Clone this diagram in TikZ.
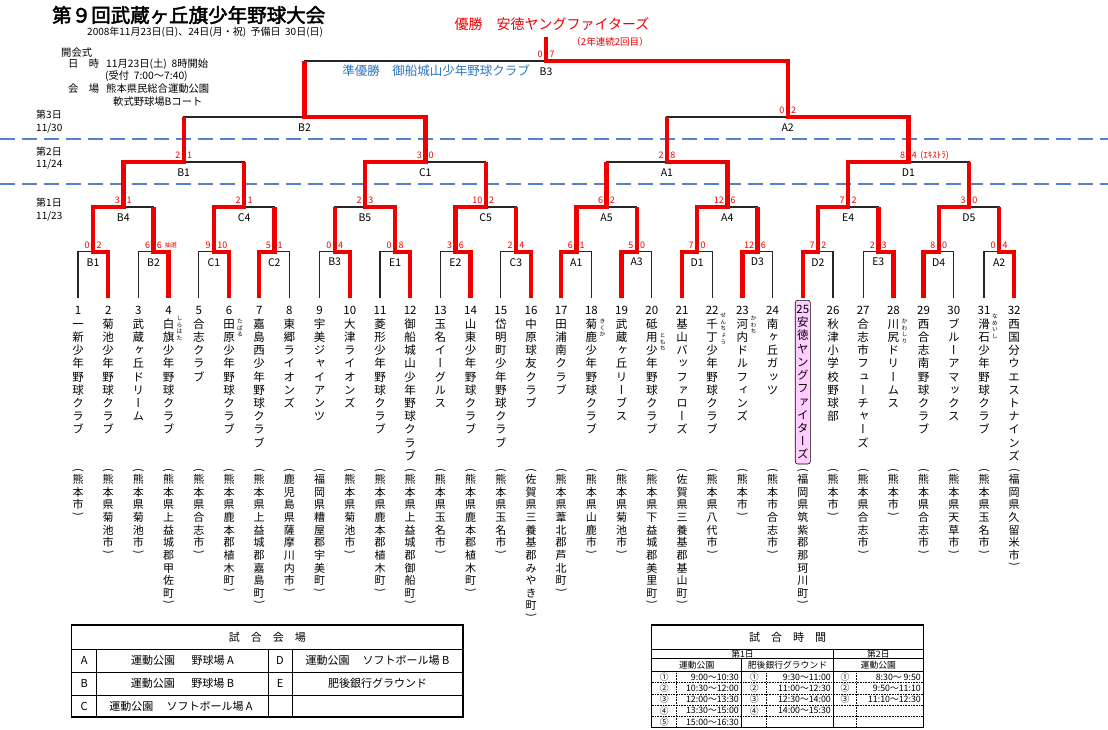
\documentclass[tikz,border=0pt]{standalone}
\usepackage{fontspec}
\setmainfont{Noto Sans CJK JP}
\newfontfamily\tatefont[RawFeature=+vert]{Noto Sans CJK JP}
\newfontfamily\boldjp[FakeBold=2.5]{Noto Sans CJK JP}
\usetikzlibrary{positioning, calc}

\definecolor{daybl}{RGB}{84,130,204}
\definecolor{runbl}{RGB}{40,118,190}
\definecolor{winred}{RGB}{238,0,0}
\definecolor{champpink}{RGB}{255,205,255}

% tategaki: one character per line
\def\tateend{}
\newcommand\tatebox[1]{\hbox to 1.1em{\hss\vrule height .93em depth .22em width 0pt#1\hss}}
\newcommand\tateparen[1]{\vbox to .55em{\vss\hbox to 1.1em{\hss\rotatebox{-90}{\rmfamily#1}\hss}\vss}}
\def\tateput#1{\ifx#1(\tateparen{(}\else\ifx#1)\tateparen{)}\else\tatebox{#1}\fi\fi}
\def\tatechar#1{\ifx#1\tateend\else\tateput{#1}\expandafter\tatechar\fi}
\newcommand\tatestack[1]{\vbox{\offinterlineskip
  \edef\tatetmp{#1}\expandafter\tatechar\tatetmp\tateend}}
\newcommand\tate[2]{\vbox{\offinterlineskip
  \tatebox{#1}\edef\tatetmp{#2}\expandafter\tatechar\tatetmp\tateend}}

\begin{document}
\begin{tikzpicture}[x=1pt, y=-1pt,
    lose/.style={black!85, line width=1.2pt},
    win/.style={winred, line width=4.4pt},
    daysep/.style={daybl, line width=1.3pt, dash pattern=on 15pt off 7pt},
    mlab/.style={font=\fontsize{10.5}{11}\selectfont, inner sep=0pt, yshift=-10.5pt},
    scl/.style={font=\fontsize{9}{9}\selectfont, text=winred, inner sep=0pt, anchor=east, xshift=-3.2pt, yshift=6.5pt},
    scr/.style={font=\fontsize{9}{9}\selectfont, text=winred, inner sep=0pt, anchor=west, xshift=3.2pt, yshift=6.5pt},
    note/.style={text=winred, inner sep=0pt, anchor=west},
    team/.style={font=\tatefont\fontsize{11.5}{12}\selectfont, inner sep=0pt},
    place/.style={font=\tatefont\fontsize{11}{12}\selectfont, inner sep=0pt, anchor=north},
    furi/.style={font=\tatefont\fontsize{5.8}{6}\selectfont, inner sep=0pt, anchor=north},
    nobox/.style={},
    champ/.style={draw=black, line width=0.6pt, fill=champpink, rounded corners=2.5pt,
      inner xsep=1.2pt, inner ysep=2.5pt, yshift=4pt},
    info/.style={font=\fontsize{10.3}{11}\selectfont, anchor=west, inner sep=0pt},
    daylab/.style={font=\fontsize{10}{11}\selectfont, anchor=west, inner sep=0pt},
    tblout/.style={black, line width=1.3pt},
    tblin/.style={black, line width=0.7pt},
    tbldot/.style={black, line width=0.7pt, dash pattern=on 0.8pt off 0.8pt},
    cell/.style={font=\fontsize{11}{12}\selectfont, inner sep=0pt},
    tcell/.style={font=\fontsize{8.8}{9}\selectfont, inner sep=0pt}
  ]
  \useasboundingbox (0,0) rectangle (1108,729);
  \def\tx{30.2}  % team pitch

  % -- 1. HEADER --
  \node[anchor=west, inner sep=0pt, font=\boldjp\fontsize{19.5}{20}\selectfont] (title) at (52,15) {第９回武蔵ヶ丘旗少年野球大会};
  \node[anchor=west, inner sep=0pt, font=\fontsize{10}{10}\selectfont] (dates) at (87,32) {2008年11月23日(日)、24日(月・祝)\ \ 予備日\ \ 30日(日)};
  \node[info] (kaikai) at (61,53) {開会式};
  \node[info] (nichiji) at (68,64) {日　時};
  \node[info] (nichiji-v) at (106,64) {11月23日(土)\ \ 8時開始};
  \node[info] (uketsuke) at (105,76) {(受付\ \ 7:00～7:40)};
  \node[info] (kaijo) at (68,89) {会　場};
  \node[info] (kaijo-v) at (106,89) {熊本県民総合運動公園};
  \node[info] (court) at (113,102) {軟式野球場Bコート};

  % day bands
  \draw[daysep] (0,139) -- (1108,139);
  \draw[daysep] (0,184) -- (1108,184);
  \node[daylab] (day3) at (36,115) {第3日};
  \node[daylab] (day3d) at (36,128) {11/30};
  \node[daylab] (day2) at (36,152) {第2日};
  \node[daylab] (day2d) at (36,164) {11/24};
  \node[daylab] (day1) at (36,203) {第1日};
  \node[daylab] (day1d) at (36,216) {11/23};

  % -- 2. BRACKET --
  \foreach \i in {1,...,32} \coordinate (t\i) at ({78+\tx*(\i-1)},298);
  \foreach \lv/\k/\y/\n in {a/2/251.7/16, b/4/207/8, c/8/162/4, d/16/117/2, f/32/61/1}
    \foreach \j in {1,...,\n} \coordinate (\lv\j) at ({78+\tx*(\k*(\j-1)+(\k-1)/2)},\y);
  \coordinate (top) at ($(f1)+(0,-24)$);

  % black frame of every match
  \foreach \lv/\ch/\n in {a/t/16, b/a/8, c/b/4, d/c/2, f/d/1}
    \foreach \j in {1,...,\n} {
      \pgfmathtruncatemacro\l{2*\j-1}
      \pgfmathtruncatemacro\r{2*\j}
      \draw[lose] (\ch\l) |- (\lv\j) -| (\ch\r);
    }

  % round 1
  \foreach \j/\w/\lab/\sa/\sb in {1/2/B1/0/2, 2/4/B2/6/6, 3/6/C1/9/10, 4/7/C2/5/1,
      5/10/B3/0/4, 6/12/E1/0/8, 7/14/E2/3/6, 8/16/C3/2/4, 9/17/A1/6/1, 10/19/A3/5/0,
      11/21/D1/7/0, 12/23/D3/12/6, 13/25/D2/7/2, 14/28/E3/2/3, 15/29/D4/8/0, 16/32/A2/0/4} {
    \draw[win] (t\w) |- (a\j) -- (a\j |- b1);
    \node[mlab] (la\j) at (a\j) {\lab};
    \node[scl] (sla\j) at (a\j) {\sa};
    \node[scr] (sra\j) at (a\j) {\sb};
  }
  \node[note, font=\fontsize{6}{6}\selectfont] (chusen) at ($(sra2.east)+(2.5,0)$) {抽選};

  % round 2
  \foreach \j/\w/\lab/\sa/\sb in {1/1/B4/3/1, 2/3/C4/2/1, 3/6/B5/2/3, 4/7/C5/10/2,
      5/9/A5/6/2, 6/11/A4/12/6, 7/13/E4/7/2, 8/15/D5/3/0} {
    \draw[win] (a\w) |- (b\j) -- (b\j |- c1);
    \node[mlab] (lb\j) at (b\j) {\lab};
    \node[scl] (slb\j) at (b\j) {\sa};
    \node[scr] (srb\j) at (b\j) {\sb};
  }

  % round 3
  \foreach \j/\w/\lab/\sa/\sb in {1/1/B1/2/1, 2/3/C1/3/0, 3/6/A1/2/8, 4/7/D1/8/4} {
    \draw[win] (b\w) |- (c\j) -- (c\j |- d1);
    \node[mlab] (lc\j) at (c\j) {\lab};
    \node[scl] (slc\j) at (c\j) {\sa};
    \node[scr] (src\j) at (c\j) {\sb};
  }
  \node[note, font=\fontsize{9}{9}\selectfont] (extra) at ($(src4.east)+(3,0)$) {(ｴｷｽﾄﾗ)};

  % semi-finals and final
  \draw[win] (c2) |- (d1) -- (d1 |- f1);
  \node[mlab] (ld1) at (d1) {B2};
  \draw[win] (c4) |- (d2) -- (d2 |- f1);
  \node[mlab] (ld2) at (d2) {A2};
  \node[scl] (sld2) at (d2) {0};
  \node[scr] (srd2) at (d2) {2};
  \draw[win] (d2) |- (f1) -- (top);
  \node[mlab] (lf) at (f1) {B3};
  \node[scl] (slf) at (f1) {0};
  \node[scr] (srf) at (f1) {7};

  \node[text=winred, inner sep=0pt, font=\fontsize{14}{14}\selectfont] (champion) at (552,24) {優勝　安徳ヤングファイターズ};
  \node[text=winred, inner sep=0pt, font=\fontsize{9.5}{10}\selectfont] (renzoku) at (610,42) {（2年連続2回目）};
  \node[text=runbl, inner sep=0pt, font=\fontsize{12.5}{13}\selectfont] (runnerup) at (436,71) {準優勝　御船城山少年野球クラブ};

  % -- 3. TEAMS --
  \coordinate (locrow) at (0,467);
  \foreach \i/\nm/\loc/\st in {
      1/一新少年野球クラブ/(熊本市)/nobox, 2/菊池少年野球クラブ/(熊本県菊池市)/nobox,
      3/武蔵ヶ丘ドリーム/(熊本県菊池市)/nobox, 4/白旗少年野球クラブ/(熊本県上益城郡甲佐町)/nobox,
      5/合志クラブ/(熊本県合志市)/nobox, 6/田原少年野球クラブ/(熊本県鹿本郡植木町)/nobox,
      7/嘉島西少年野球クラブ/(熊本県上益城郡嘉島町)/nobox, 8/東郷ライオンズ/(鹿児島県薩摩川内市)/nobox,
      9/宇美ジャイアンツ/(福岡県糟屋郡宇美町)/nobox, 10/大津ライオンズ/(熊本県菊池市)/nobox,
      11/菱形少年野球クラブ/(熊本県鹿本郡植木町)/nobox, 12/御船城山少年野球クラブ/(熊本県上益城郡御船町)/nobox,
      13/玉名イーグルス/(熊本県玉名市)/nobox, 14/山東少年野球クラブ/(熊本県鹿本郡植木町)/nobox,
      15/岱明町少年野球クラブ/(熊本県玉名市)/nobox, 16/中原球友クラブ/(佐賀県三養基郡みやき町)/nobox,
      17/田浦南クラブ/(熊本県葦北郡芦北町)/nobox, 18/菊鹿少年野球クラブ/(熊本県山鹿市)/nobox,
      19/武蔵ヶ丘リーブス/(熊本県菊池市)/nobox, 20/砥用少年野球クラブ/(熊本県下益城郡美里町)/nobox,
      21/基山バッファローズ/(佐賀県三養基郡基山町)/nobox, 22/千丁少年野球クラブ/(熊本県八代市)/nobox,
      23/河内ドルフィンズ/(熊本市)/nobox, 24/南ヶ丘ガッツ/(熊本市合志市)/nobox,
      25/安徳ヤングファイターズ/(福岡県筑紫郡那珂川町)/champ, 26/秋津小学校野球部/(熊本市)/nobox,
      27/合志市フューチャーズ/(熊本県合志市)/nobox, 28/川尻ドリームス/(熊本市)/nobox,
      29/西合志南野球クラブ/(熊本県合志市)/nobox, 30/ブルーアマックス/(熊本県天草市)/nobox,
      31/滑石少年野球クラブ/(熊本県玉名市)/nobox, 32/西国分ウエストナインズ/(福岡県久留米市)/nobox} {
    \node[team, below=6pt of t\i, \st] (n\i) {\tate{\i}{\nm}};
    \node[place] (p\i) at (t\i |- locrow) {\tatestack{\loc}};
  }
  % furigana
  \foreach \i/\rb/\dy in {4/しらはた/17, 6/たばる/20, 18/きくか/20, 20/ともち/34,
      22/せんちょう/14, 23/かわち/17, 28/かわしり/20, 31/なめいし/15}
    \node[furi] (ru\i) at ($(t\i)+(11,\dy)$) {\tatestack{\rb}};

  % -- 4. VENUE TABLE --
  \draw[tblout] (71.7,625) rectangle (463,717);
  \draw[tblin] (71.7,649) -- (463,649) (71.7,672) -- (463,672) (71.7,695) -- (463,695)
    (96.7,649) -- (96.7,717) (268,649) -- (268,717) (292,649) -- (292,717);
  \node[cell] (venuehead) at (267.4,637) {試　合　会　場};
  \foreach \y/\ka/\va/\kb/\vb in {660.5/A/運動公園\hspace{1.5em}野球場 A/D/運動公園\hspace{1.2em}ソフトボール場 B,
      683.5/B/運動公園\hspace{1.5em}野球場 B/E/肥後銀行グラウンド} {
    \node[cell] (k\ka) at (84.2,\y) {\ka};
    \node[cell] (v\ka) at (182.4,\y) {\va};
    \node[cell] (k\kb) at (280,\y) {\kb};
    \node[cell] (v\kb) at (377.5,\y) {\vb};
  }
  \node[cell] (kC) at (84.2,706) {C};
  \node[cell] (vC) at (181,706) {運動公園\hspace{1.2em}ソフトボール場 A};

  % -- 5. TIME TABLE --
  \draw[tblout] (651.7,625) rectangle (923.3,727.6);
  \draw[tblin] (651.7,649) -- (923.3,649) (651.7,658.5) -- (923.3,658.5) (651.7,671.4) -- (923.3,671.4)
    (833.3,649) -- (833.3,727.6) (741.7,658.5) -- (741.7,727.6);
  \foreach \y in {682.6, 693.9, 705.1, 716.4} \draw[tbldot] (651.7,\y) -- (923.3,\y);
  \foreach \x in {676.7, 766.7, 856.7} \draw[tbldot] (\x,671.4) -- (\x,727.6);
  \node[cell] (timehead) at (787.5,637) {試　合　時　間};
  \node[tcell] (d1head) at (742.5,654) {第1日};
  \node[tcell] (d2head) at (878.3,654) {第2日};
  \node[tcell] (ven1) at (696.7,665) {運動公園};
  \node[tcell] (ven2) at (787.5,665) {肥後銀行グラウンド};
  \node[tcell] (ven3) at (878.3,665) {運動公園};
  \foreach \y/\c/\tm [count=\k] in {677/①/9:00～10:30, 688.2/②/10:30～12:00, 699.5/③/12:00～13:30,
      710.7/④/13:30～15:00, 722/⑤/15:00～16:30} {
    \node[tcell] (ca\k) at (664.2,\y) {\c};
    \node[tcell, anchor=east] (ta\k) at (739,\y) {\tm};
  }
  \foreach \y/\c/\tm [count=\k] in {677/①/9:30～11:00, 688.2/②/11:00～12:30, 699.5/③/12:30～14:00,
      710.7/④/14:00～15:30} {
    \node[tcell] (cb\k) at (754.2,\y) {\c};
    \node[tcell, anchor=east] (tb\k) at (831,\y) {\tm};
  }
  \foreach \y/\c/\tm [count=\k] in {677/①/8:30～\ 9:50, 688.2/②/9:50～11:10, 699.5/③/11:10～12:30} {
    \node[tcell] (cc\k) at (845,\y) {\c};
    \node[tcell, anchor=east] (tc\k) at (921,\y) {\tm};
  }
\end{tikzpicture}
\end{document}
